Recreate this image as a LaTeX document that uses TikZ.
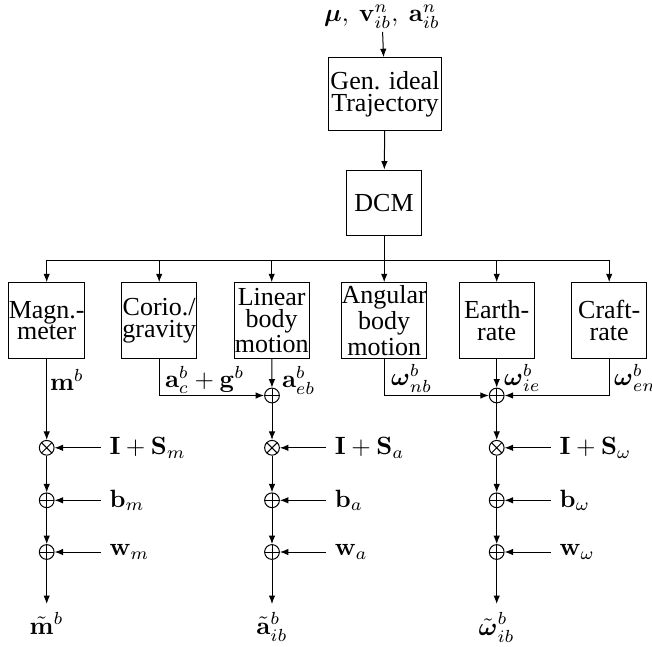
\documentclass[tikz,border=0pt]{standalone}
\usepackage{amsmath,amssymb}
\usepackage[no-math]{fontspec}
\setmainfont{Liberation Serif}
\usetikzlibrary{arrows.meta,calc,positioning}
\tikzset{
  blockbox/.style={draw,align=center,inner sep=0pt,minimum width=30pt,
    minimum height=30.2pt,font=\fontsize{10.4}{8.7}\selectfont},
  sumnode/.style={circle,draw,inner sep=0pt,minimum size=5.9pt,
    path picture={\draw (path picture bounding box.north)--(path picture bounding box.south)
      (path picture bounding box.west)--(path picture bounding box.east);}},
  prodnode/.style={circle,draw,inner sep=0pt,minimum size=5.9pt,
    path picture={\draw (path picture bounding box.north west)--(path picture bounding box.south east)
      (path picture bounding box.south west)--(path picture bounding box.north east);}},
  sig/.style={-{Latex[length=3.4pt,width=2.6pt]}},
  siglabel/.style={anchor=west,inner sep=1pt}
}

\begin{document}
\begin{tikzpicture}[x=0.4pt,y=-0.4pt]
  \useasboundingbox (0,0) rectangle (652,646);
  % trajectory and DCM
  \node[inner sep=1pt] (inp) at (382,17) {$\boldsymbol{\mu},\ \mathbf{v}^n_{ib},\ \mathbf{a}^n_{ib}$};
  \node[blockbox,minimum width=45.2pt,minimum height=29pt] (gen) at (385,94) {Gen. ideal\\Trajectory};
  \node[blockbox,minimum width=29.7pt,minimum height=26.3pt] (dcm) at (384,203) {DCM};
  \draw[sig] (inp) -- (gen);
  \draw[sig] (gen) -- (dcm);
  % sensor and motion blocks
  \foreach \nm/\txt [count=\i from 0] in {mag/{Magn.-\\meter},cor/{Corio./\\gravity},
      lin/{Linear\\body\\motion},ang/{Angular\\body\\motion},ear/{Earth-\\rate},cra/{Craft-\\rate}}
    \node[blockbox] (\nm) at (46.7+112.5*\i,320.5) {\txt};
  \coordinate (busL) at (46.7,260);
  \coordinate (busR) at (609.3,260);
  \draw (dcm.south) -- (dcm.south |- busL);
  \draw (busL) -- (busR);
  \foreach \nm in {mag,cor,lin,ang,ear,cra}
    \draw[sig] (\nm.north |- busL) -- (\nm.north);
  % summing points
  \node[sumnode] (ca) at (272,395.5) {};
  \node[sumnode] (cw) at (496.7,395.5) {};
  \node[siglabel] (lm) at (47,380) {$\mathbf{m}^b$};
  \node[siglabel] (lc) at (162,380) {$\mathbf{a}^b_c+\mathbf{g}^b$};
  \node[siglabel] (le) at (279,380) {$\mathbf{a}^b_{eb}$};
  \node[siglabel] (ln) at (388,378) {$\boldsymbol{\omega}^b_{nb}$};
  \node[siglabel] (li) at (501,378) {$\boldsymbol{\omega}^b_{ie}$};
  \node[siglabel] (lr) at (611,378) {$\boldsymbol{\omega}^b_{en}$};
  \draw[sig] (cor.south) |- (ca);
  \draw[sig] (lin) -- (ca);
  \draw[sig] (ang.south) |- (cw);
  \draw[sig] (ear) -- (cw);
  \draw[sig] (cra.south) |- (cw);
  % error models
  \foreach \col/\x/\s/\out in {m/46.7/m/{\tilde{\mathbf{m}}^b},a/272/a/{\tilde{\mathbf{a}}^b_{ib}},
      w/496.7/\omega/{\tilde{\boldsymbol{\omega}}^b_{ib}}} {
    \node[prodnode] (x\col) at (\x,447.8) {};
    \node[sumnode] (b\col) at (\x,500.3) {};
    \node[sumnode] (n\col) at (\x,552) {};
    \coordinate (o\col) at (\x,604);
    \node[anchor=west] (sx\col) at (\x+54,447.8) {$\mathbf{I}+\mathbf{S}_{\s}$};
    \node[anchor=west] (sb\col) at (\x+54,500.3) {$\mathbf{b}_{\s}$};
    \node[anchor=west] (sn\col) at (\x+54,552) {$\mathbf{w}_{\s}$};
    \node[below] (t\col) at (o\col) {$\out$};
    \draw[sig] (sx\col) -- (x\col);
    \draw[sig] (sb\col) -- (b\col);
    \draw[sig] (sn\col) -- (n\col);
    \draw[sig] (x\col) -- (b\col);
    \draw[sig] (b\col) -- (n\col);
    \draw[sig] (n\col) -- (o\col);
  }
  \draw[sig] (mag) -- (xm);
  \draw[sig] (ca) -- (xa);
  \draw[sig] (cw) -- (xw);
\end{tikzpicture}
\end{document}
